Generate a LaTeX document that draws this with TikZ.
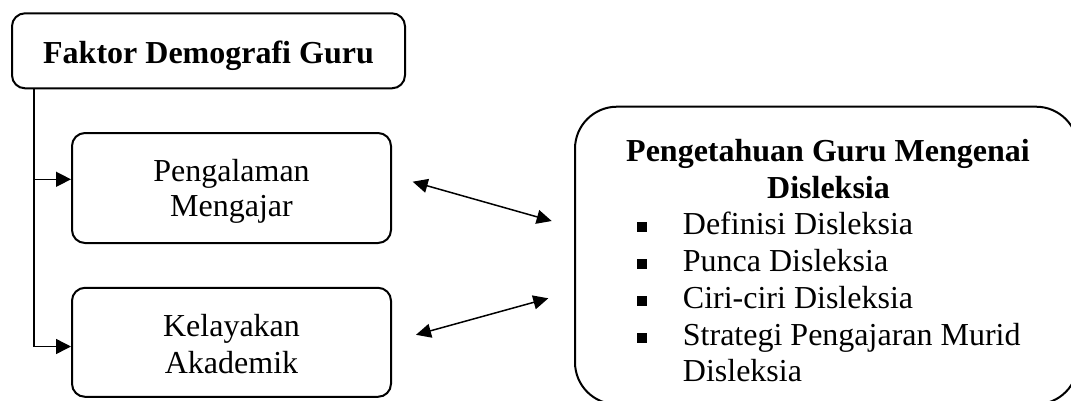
\documentclass[tikz,border=0pt]{standalone}
\usepackage{fontspec}
\setmainfont{Liberation Serif}
\usetikzlibrary{arrows.meta}

\begin{document}
\begin{tikzpicture}[x=1pt,y=-1pt,
  font=\fontsize{32}{36}\selectfont,
  box/.style={draw, line width=2pt, rounded corners=13pt, inner sep=0pt},
  txt/.style={anchor=base, inner sep=0pt},
  item/.style={anchor=base west, inner sep=0pt},
  tree/.style={line width=1.5pt, -{Triangle[length=15pt,width=15pt]}},
  link/.style={line width=1.5pt, {Triangle[length=15pt,width=14pt]}-{Triangle[length=15pt,width=14pt]}}]

\useasboundingbox (0,0) rectangle (1071,400);
\clip (0,0) rectangle (1071,400);

% kotak-kotak
\node[box, minimum width=393pt, minimum height=75pt] (demo) at (208.5,50.8) {};
\node[box, minimum width=319pt, minimum height=110pt] (peng) at (231.5,188) {};
\node[box, minimum width=319pt, minimum height=109pt] (kel) at (231.5,342.3) {};
\node[box, rounded corners=42pt, minimum width=503pt, minimum height=297.6pt] (pk) at (826.5,255.5) {};

% teks
\node[txt] (t-demo) at (208.5,63.3) {\textbf{Faktor Demografi Guru}};
\node[txt] (t-peng1) at (231.5,181.7) {Pengalaman};
\node[txt] (t-peng2) at (231.5,216.7) {Mengajar};
\node[txt] (t-kel1) at (231.5,336.7) {Kelayakan};
\node[txt] (t-kel2) at (231.5,373.3) {Akademik};

\node[txt] (t-pk1) at (828,161.7) {\textbf{Pengetahuan Guru Mengenai}};
\node[txt] (t-pk2) at (828.5,198) {\textbf{Disleksia}};
\node[item] (li1) at (636.7,234) {\rule[2.3pt]{10.5pt}{10pt}\hspace{35.5pt}Definisi Disleksia};
\node[item] (li2) at (636.7,271.7) {\rule[2.3pt]{10.5pt}{10pt}\hspace{35.5pt}Punca Disleksia};
\node[item] (li3) at (636.7,308) {\rule[2.3pt]{10.5pt}{10pt}\hspace{35.5pt}Ciri-ciri Disleksia};
\node[item] (li4) at (636.7,345) {\rule[2.3pt]{10.5pt}{10pt}\hspace{35.5pt}Strategi Pengajaran Murid};
\node[item] (li5) at (682.7,381.7) {Disleksia};

% garis cabang
\coordinate (trunk) at ([xshift=23pt]demo.south west);
\draw[tree] (trunk) |- ([yshift=8.7pt]peng.west);
\draw[tree] (trunk) |- ([yshift=-4.2pt]kel.west);

% anak panah dua hala
\coordinate (a1) at ([xshift=20.7pt,yshift=6.3pt]peng.east);
\coordinate (b1) at ([xshift=-22.3pt,yshift=34.5pt]pk.west);
\coordinate (a2) at ([xshift=24pt,yshift=7.5pt]kel.east);
\coordinate (b2) at ([xshift=-25.7pt,yshift=-42.8pt]pk.west);
\draw[link] (a1) -- (b1);
\draw[link] (a2) -- (b2);
\end{tikzpicture}
\end{document}
